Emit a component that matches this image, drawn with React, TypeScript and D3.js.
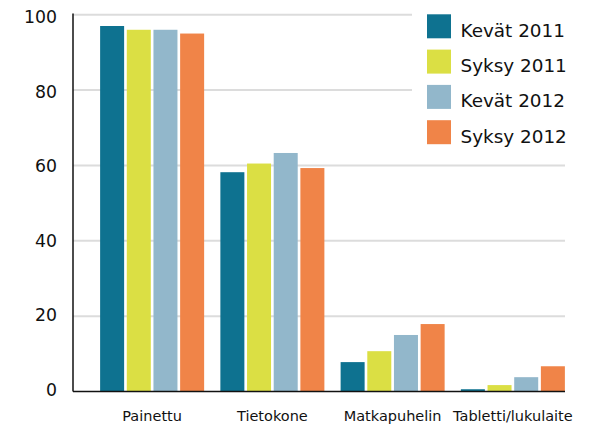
import * as d3 from "d3";

const categories = ["Painettu", "Tietokone", "Matkapuhelin", "Tabletti/lukulaite"];
const seriesNames = ["Kevät 2011", "Syksy 2011", "Kevät 2012", "Syksy 2012"];
const seriesColors = ["#0e7290", "#dbdf44", "#92b7cb", "#f08448"];

const kevat2011 = [97, 58.2, 7.8, 0.6];
const syksy2011 = [96, 60.5, 10.7, 1.7];
const kevat2012 = [96, 63.3, 15, 3.8];
const syksy2012 = [95, 59.3, 17.9, 6.7];
const seriesValues = [kevat2011, syksy2011, kevat2012, syksy2012];

const yTicks = [0, 20, 40, 60, 80, 100];

const W = 599;
const H = 426;
const axisLeft = 73;
const axisRight = 565;
const FONT = "'DejaVu Sans', sans-serif";

export default function App() {
  const y = d3.scaleLinear().domain([0, 100]).range([391.5, 14.7]);
  // tick label baselines sit a little off the gridlines in the original
  const yLabel = d3.scaleLinear().domain([0, 100]).range([396, 23.3]);

  const x0 = d3
    .scaleBand()
    .domain(categories)
    .range([92, 573])
    .paddingInner(0.135)
    .paddingOuter(0.0675);

  const x1 = d3
    .scaleBand()
    .domain(seriesNames)
    .range([0, x0.bandwidth()])
    .paddingInner(0.1)
    .paddingOuter(0);

  return (
    <div style={{ position: "absolute", left: 0, top: 0 }}>
      <svg width={W} height={H} style={{ display: "block", background: "#fff" }}>
        {/* gridlines */}
        {yTicks
          .filter((t) => t > 0)
          .map((t) => (
            <line
              key={t}
              x1={axisLeft}
              x2={axisRight}
              y1={y(t)}
              y2={y(t)}
              stroke="#dcdcdc"
              strokeWidth={2}
            />
          ))}

        {/* tick labels */}
        {yTicks.map((t) => (
          <text
            key={t}
            x={57}
            y={yLabel(t)}
            textAnchor="end"
            fontFamily={FONT}
            fontSize={17.3}
            fill="#111"
          >
            {t}
          </text>
        ))}

        {/* bars */}
        {categories.map((cat, ci) => (
          <g key={cat} transform={`translate(${x0(cat)},0)`}>
            {seriesNames.map((s, si) => {
              const v = seriesValues[si][ci];
              return (
                <rect
                  key={s}
                  x={x1(s)}
                  y={y(v)}
                  width={x1.bandwidth()}
                  height={y(0) - y(v)}
                  fill={seriesColors[si]}
                />
              );
            })}
            <text
              x={x0.bandwidth() / 2}
              y={421}
              textAnchor="middle"
              fontFamily={FONT}
              fontSize={14.5}
              fill="#111"
            >
              {cat}
            </text>
          </g>
        ))}

        {/* axes */}
        <line x1={axisLeft} x2={axisLeft} y1={13.5} y2={y(0)} stroke="#111" strokeWidth={1.5} />
        <line x1={axisLeft} x2={axisRight} y1={y(0)} y2={y(0)} stroke="#111" strokeWidth={1.5} />

        {/* legend */}
        <rect x={412} y={0} width={187} height={158} fill="#fff" />
        {seriesNames.map((s, i) => (
          <g key={s} transform={`translate(427,${14.3 + i * 35.3})`}>
            <rect width={24} height={24} fill={seriesColors[i]} />
            <text
              x={33.5}
              y={22.5}
              fontFamily={FONT}
              fontSize={18.4}
              fill="#111"
            >
              {s}
            </text>
          </g>
        ))}
      </svg>
    </div>
  );
}
